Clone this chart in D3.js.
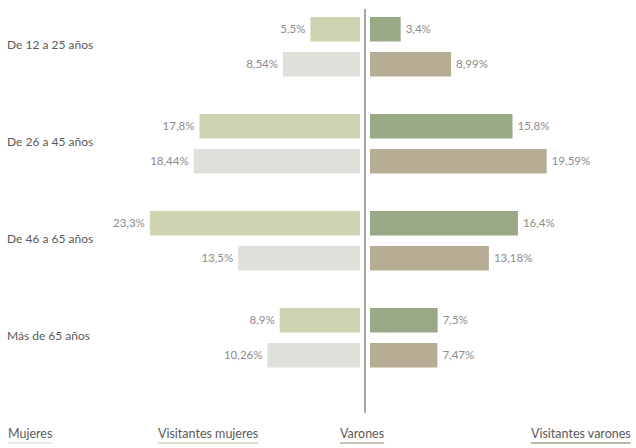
<!DOCTYPE html>
<html>
<head>
<meta charset="utf-8">
<script src="https://cdn.jsdelivr.net/npm/d3@7"></script>
<style>
  body { margin: 0; background: #fff; }
  text { font-family: Lato, "Open Sans", sans-serif; }
</style>
</head>
<body>
<div id="chart"></div>
<script>
// age groups and the four series (percent)
var categories = ["De 12 a 25 años", "De 26 a 45 años", "De 46 a 65 años", "Más de 65 años"];
var mujeres = [5.5, 17.8, 23.3, 8.9];
var visitantesMujeres = [8.54, 18.44, 13.5, 10.26];
var varones = [3.4, 15.8, 16.4, 7.5];
var visitantesVarones = [8.99, 19.59, 13.18, 7.47];
var legendLabels = ["Mujeres", "Visitantes mujeres", "Varones", "Visitantes varones"];

var width = 636, height = 448;
var midX = 365, gap = 5;

var colors = {
    mujeres: "#d0d3b2",
    visMujeres: "#dde1d9",
    varones: "#99a985",
    visVarones: "#b6ad94"
};

var svg = d3.select("#chart").append("svg")
    .attr("width", width)
    .attr("height", height);

var x = d3.scaleLinear().domain([0, 25]).range([0, 225.5]);

var yGroup = d3.scaleBand().domain(categories).range([17, 405]);
var ySub = d3.scaleBand().domain(["a", "b"]).range([0, 59.5]).paddingInner(0.3);

function fmt(v) {
    return String(v).replace(".", ",") + "%";
}

// left bars (mujeres) and right bars (varones)
var series = [
    { values: mujeres, side: -1, row: "a", color: colors.mujeres },
    { values: visitantesMujeres, side: -1, row: "b", color: colors.visMujeres },
    { values: varones, side: 1, row: "a", color: colors.varones },
    { values: visitantesVarones, side: 1, row: "b", color: colors.visVarones }
];

series.forEach(function (s) {
    var g = svg.append("g");
    s.values.forEach(function (v, i) {
        var y0 = yGroup(categories[i]) + ySub(s.row);
        var w = x(v);
        var x0 = s.side < 0 ? midX - gap - w : midX + gap;
        g.append("rect")
            .attr("x", x0)
            .attr("y", y0)
            .attr("width", w)
            .attr("height", ySub.bandwidth())
            .attr("fill", s.color);
        g.append("text")
            .attr("x", s.side < 0 ? x0 - 5 : x0 + w + 5)
            .attr("y", y0 + ySub.bandwidth() / 2)
            .attr("dy", "0.35em")
            .attr("text-anchor", s.side < 0 ? "end" : "start")
            .attr("font-size", 11.5)
            .attr("fill", "#8c8c8c")
            .text(fmt(v));
    });
});

// category labels
svg.append("g").selectAll("text")
    .data(categories)
    .enter().append("text")
    .attr("x", 7)
    .attr("y", function (d) { return yGroup(d) + 28; })
    .attr("dy", "0.35em")
    .attr("font-size", 12)
    .attr("fill", "#5a5a5a")
    .text(function (d) { return d; });

// center axis line
svg.append("line")
    .attr("x1", midX).attr("x2", midX)
    .attr("y1", 9).attr("y2", 413)
    .attr("stroke", "#8a8a8a")
    .attr("stroke-width", 1.5);

// legend at the bottom, text with coloured underline
var legendX = [8, 158, 340, 531];
var legendLine = ["#e4e6dc", colors.mujeres, colors.visVarones, colors.varones];
legendLabels.forEach(function (lab, i) {
    var t = svg.append("text")
        .attr("x", legendX[i])
        .attr("y", 438)
        .attr("font-size", 12.5)
        .attr("fill", "#5a5a5a")
        .text(lab);
    var w = t.node().getComputedTextLength();
    svg.append("line")
        .attr("x1", legendX[i]).attr("x2", legendX[i] + w)
        .attr("y1", 443).attr("y2", 443)
        .attr("stroke", legendLine[i])
        .attr("stroke-width", 1.5);
});
</script>
</body>
</html>
